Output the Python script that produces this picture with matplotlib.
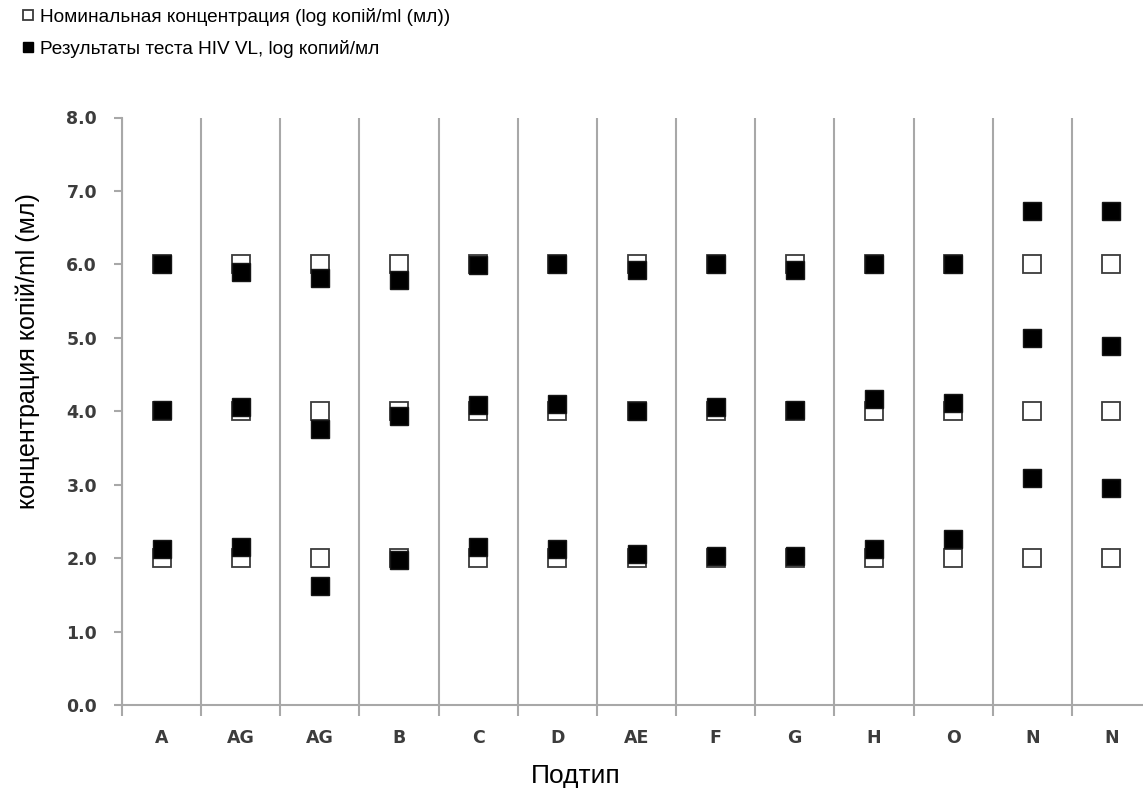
import matplotlib
matplotlib.use("Agg")
import matplotlib.pyplot as plt
from matplotlib.ticker import FixedLocator, FormatStrFormatter
from matplotlib.lines import Line2D

# ---- data ----
categories = ['A', 'AG', 'AG', 'B', 'C', 'D', 'AE', 'F', 'G', 'H', 'O', 'N', 'N']
nominal_high = [6.0] * 13
nominal_mid = [4.0] * 13
nominal_low = [2.0] * 13
measured_high = [6.00, 5.90, 5.81, 5.79, 5.99, 6.00, 5.92, 6.00, 5.92, 6.00, 6.00, 6.73, 6.73]
measured_mid = [4.02, 4.06, 3.76, 3.94, 4.08, 4.10, 4.01, 4.06, 4.02, 4.17, 4.11, 5.00, 4.89]
measured_low = [2.12, 2.15, 1.62, 1.97, 2.15, 2.12, 2.05, 2.03, 2.03, 2.13, 2.26, 3.09, 2.96]
y_ticks = [0, 1, 2, 3, 4, 5, 6, 7, 8]

label_nominal = 'Номинальная концентрация (log копій/ml (мл))'
label_measured = 'Результаты теста HIV VL, log копий/мл'
xlabel = 'Подтип'
ylabel = 'концентрация копій/ml (мл)'

plt.rcParams['font.family'] = ['Liberation Sans', 'DejaVu Sans']

W, H = 1143, 791
fig = plt.figure(figsize=(W / 100, H / 100), dpi=100)
left, right, top, bottom = 122, 1151, 117.5, 705
ax = fig.add_axes([left / W, 1 - bottom / H, (right - left) / W, (bottom - top) / H])

x = list(range(len(categories)))
grid_col = '#a8a8a8'
tick_col = '#3c3c3c'
ms = 13.5
for vals in (nominal_high, nominal_mid, nominal_low):
    ax.plot(x, vals, linestyle='none', marker='s', markersize=ms,
            markerfacecolor='white', markeredgecolor='#3a3a3a', markeredgewidth=1.3, zorder=3)
for vals in (measured_high, measured_mid, measured_low):
    ax.plot(x, vals, linestyle='none', marker='s', markersize=ms,
            markerfacecolor='black', markeredgecolor='#151515', markeredgewidth=1.0, zorder=4)

ax.set_xlim(-0.5, len(categories) - 0.5)
ax.set_ylim(0, 8)

ax.xaxis.set_major_locator(FixedLocator(x))
ax.set_xticklabels(categories)
bounds = [i - 0.5 for i in range(len(categories) + 1)]
ax.xaxis.set_minor_locator(FixedLocator(bounds))
ax.tick_params(axis='x', which='major', length=0, pad=17, labelsize=12.5,
               labelcolor=tick_col)
ax.tick_params(axis='x', which='minor', length=8, width=1.5, color=grid_col, direction='out')
for lab in ax.get_xticklabels():
    lab.set_fontweight('bold')
    lab.set_family(['DejaVu Sans'])

ax.yaxis.set_major_locator(FixedLocator(y_ticks))
ax.yaxis.set_major_formatter(FormatStrFormatter('%.1f'))
ax.tick_params(axis='y', which='major', length=6, width=1.5, color=grid_col,
               direction='out', pad=12, labelsize=12.5, labelcolor=tick_col)
for lab in ax.get_yticklabels():
    lab.set_fontweight('bold')
    lab.set_family(['DejaVu Sans'])

ax.grid(True, axis='x', which='minor', color=grid_col, linewidth=1.5)
ax.grid(False, axis='x', which='major')
ax.set_axisbelow(True)

for s in ('top', 'right'):
    ax.spines[s].set_visible(False)
for s in ('left', 'bottom'):
    ax.spines[s].set_color(grid_col)
    ax.spines[s].set_linewidth(1.5)

ax.set_xlabel(xlabel, fontsize=19)
ax.xaxis.set_label_coords(576 / W, 1 - 764 / H, transform=fig.transFigure)
ax.set_ylabel(ylabel, fontsize=18)
ax.yaxis.set_label_coords(40 / W, 1 - 351 / H, transform=fig.transFigure)

handles = [
    Line2D([], [], linestyle='none', marker='s', markersize=7, markerfacecolor='white',
           markeredgecolor='#3a3a3a', markeredgewidth=1.3),
    Line2D([], [], linestyle='none', marker='s', markersize=7, markerfacecolor='black',
           markeredgecolor='black'),
]
fig.legend(handles, [label_nominal, label_measured], loc='upper left',
           bbox_to_anchor=(20.5 / W, 1 - 8 / H), frameon=False, fontsize=13.7,
           handlelength=0.8, handletextpad=0.25, labelspacing=0.71, borderaxespad=0,
           borderpad=0)

fig.savefig('out.png', dpi=100, facecolor='white')
